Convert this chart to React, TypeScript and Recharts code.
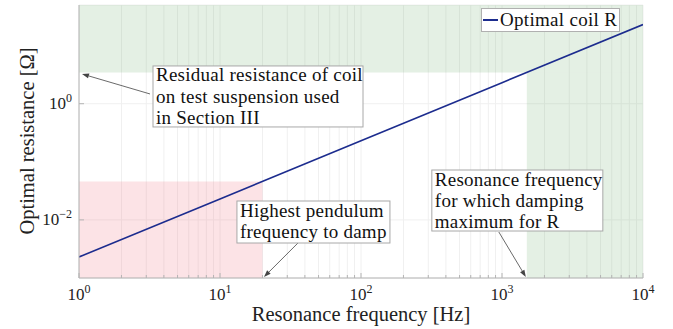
import React from 'react';
import {
  ComposedChart,
  Line,
  XAxis,
  YAxis,
  CartesianGrid,
  ReferenceArea,
  ReferenceDot,
  Legend,
} from 'recharts';

// optimal coil resistance vs resonance frequency (R grows linearly with f)
const freqHz = [1, 10, 100, 1000, 10000];
const optimalR = [0.0023, 0.023, 0.23, 2.3, 23];

const xTicks = [
  1, 2, 3, 4, 5, 6, 7, 8, 9,
  10, 20, 30, 40, 50, 60, 70, 80, 90,
  100, 200, 300, 400, 500, 600, 700, 800, 900,
  1000, 2000, 3000, 4000, 5000, 6000, 7000, 8000, 9000,
  10000,
];
const yTicks = [0.01, 1];
const xDomain = [1, 10000];
const yDomain = [0.001, 50];

// shaded regions
const residualR = 3.45; // residual resistance of coil
const pendulumMaxHz = 20;
const pendulumR = 0.046;
const dampingMaxHz = 1500;

const data = freqHz.map((f, i) => ({ f, r: optimalR[i] }));

const FONT = '"Liberation Serif", "DejaVu Serif", serif';
const AXIS = '#b4b4b4';
const LINE = '#1c2c8e';

const isDecade = (v: number) => {
  const e = Math.round(Math.log10(v));
  return Math.abs(v - Math.pow(10, e)) < 1e-9 * v;
};

const Pow10 = ({ x, y, v, anchor }: any) => {
  const e = Math.round(Math.log10(v));
  const exp = e < 0 ? '\u2212' + Math.abs(e) : String(e);
  return (
    <text x={x} y={y} textAnchor={anchor} fontFamily={FONT} fontSize={17} fill="#222">
      <tspan>10</tspan>
      <tspan dy={-7} fontSize={12}>{exp}</tspan>
    </text>
  );
};

const BottomTick = ({ x, y, payload }: any) => {
  const major = isDecade(payload.value);
  return (
    <g>
      <line x1={x} x2={x} y1={y} y2={y - (major ? 5 : 3)} stroke={AXIS} />
      {major && <Pow10 x={x} y={y + 22} v={payload.value} anchor="middle" />}
    </g>
  );
};

const TopTick = ({ x, y, payload }: any) => {
  const major = isDecade(payload.value);
  return <line x1={x} x2={x} y1={y} y2={y + (major ? 5 : 3)} stroke={AXIS} />;
};

const LeftTick = ({ x, y, payload }: any) => (
  <g>
    <line x1={x} x2={x + 5} y1={y} y2={y} stroke={AXIS} />
    <Pow10 x={x - 7} y={y + 5} v={payload.value} anchor="end" />
  </g>
);

const RightTick = ({ x, y }: any) => <line x1={x} x2={x - 5} y1={y} y2={y} stroke={AXIS} />;

// arrow from a tail offset to the anchor point, plus a boxed note
const Note = ({ cx, cy, tip, tail, box, lines }: any) => {
  const tx = cx + tip[0];
  const ty = cy + tip[1];
  const sx = cx + tail[0];
  const sy = cy + tail[1];
  const ang = Math.atan2(ty - sy, tx - sx);
  const len = 7;
  const hw = 2.5;
  const bx = tx - len * Math.cos(ang);
  const by = ty - len * Math.sin(ang);
  const head = [
    [tx, ty],
    [bx - hw * Math.sin(ang), by + hw * Math.cos(ang)],
    [bx + hw * Math.sin(ang), by - hw * Math.cos(ang)],
  ]
    .map((p) => p.join(','))
    .join(' ');
  return (
    <g>
      <line x1={sx} y1={sy} x2={bx} y2={by} stroke="#444" strokeWidth={0.8} />
      <polygon points={head} fill="#444" />
      <rect x={cx + box[0]} y={cy + box[1]} width={box[2]} height={box[3]} fill="#fff" stroke="#a8a8a8" />
      {lines.map((t: string, i: number) => (
        <text
          key={i}
          x={cx + box[0] + 3}
          y={cy + box[1] + 15.5 + i * 21.3}
          fontFamily={FONT}
          fontSize={19}
          letterSpacing={0.25}
          fill="#111"
        >
          {t}
        </text>
      ))}
    </g>
  );
};

const LegendBox = ({ payload }: any) => {
  const item = payload && payload[0];
  if (!item) return null;
  return (
    <div
      style={{
        display: 'flex',
        alignItems: 'center',
        background: '#fff',
        border: '1px solid #b0b0b0',
        height: 24,
        padding: '0 2px 0 1px',
        fontFamily: FONT,
        fontSize: 19,
        letterSpacing: 0.3,
        color: '#111',
        boxSizing: 'border-box',
        whiteSpace: 'nowrap',
      }}
    >
      <span style={{ display: 'inline-block', width: 15, height: 2, background: item.color, marginRight: 2 }} />
      <span>{item.value}</span>
    </div>
  );
};

export default function App() {
  return (
    <div style={{ position: 'absolute', left: 0, top: 0, background: '#fff' }}>
      <ComposedChart width={673} height={329} data={data} margin={{ top: 5, right: 30, bottom: 0, left: 0 }}>
        <CartesianGrid stroke="#f0f0f0" strokeWidth={1} />
        <ReferenceArea x1={xDomain[0]} x2={xDomain[1]} y1={residualR} y2={yDomain[1]} fill="#6aab6a" fillOpacity={0.18} stroke="none" ifOverflow="hidden" />
        <ReferenceArea x1={dampingMaxHz} x2={xDomain[1]} y1={yDomain[0]} y2={residualR} fill="#6aab6a" fillOpacity={0.18} stroke="none" ifOverflow="hidden" />
        <ReferenceArea x1={xDomain[0]} x2={pendulumMaxHz} y1={yDomain[0]} y2={pendulumR} fill="#f06a7a" fillOpacity={0.19} stroke="none" ifOverflow="hidden" />
        <XAxis
          dataKey="f"
          type="number"
          scale="log"
          domain={xDomain}
          allowDataOverflow
          ticks={xTicks}
          interval={0}
          height={51}
          tickSize={0}
          tickMargin={0}
          tickLine={false}
          axisLine={{ stroke: AXIS }}
          tick={<BottomTick />}
          label={({ viewBox }: any) => (
            <text x={viewBox.x + viewBox.width / 2} y={viewBox.y + 43} textAnchor="middle" fontFamily={FONT} fontSize={20.5} fill="#222">
              Resonance frequency [Hz]
            </text>
          )}
        />
        <XAxis
          xAxisId="top"
          orientation="top"
          dataKey="f"
          type="number"
          scale="log"
          domain={xDomain}
          allowDataOverflow
          ticks={xTicks}
          interval={0}
          height={0}
          tickSize={0}
          tickMargin={0}
          tickLine={false}
          axisLine={{ stroke: AXIS }}
          tick={<TopTick />}
        />
        <YAxis
          type="number"
          scale="log"
          domain={yDomain}
          allowDataOverflow
          ticks={yTicks}
          interval={0}
          width={79}
          tickSize={0}
          tickMargin={0}
          tickLine={false}
          axisLine={{ stroke: AXIS }}
          tick={<LeftTick />}
          label={({ viewBox }: any) => {
            const cx = viewBox.x + 27;
            const cy = viewBox.y + 136;
            return (
              <text x={cx} y={cy} transform={`rotate(-90 ${cx} ${cy})`} textAnchor="middle" dominantBaseline="central" fontFamily={FONT} fontSize={20.5} fill="#222">
                Optimal resistance [Ω]
              </text>
            );
          }}
        />
        <YAxis
          yAxisId="right"
          orientation="right"
          type="number"
          scale="log"
          domain={yDomain}
          allowDataOverflow
          ticks={yTicks}
          interval={0}
          width={0}
          tickSize={0}
          tickMargin={0}
          tickLine={false}
          axisLine={{ stroke: AXIS }}
          tick={<RightTick />}
        />
        <Line type="linear" dataKey="r" name="Optimal coil R" stroke={LINE} strokeWidth={1.6} dot={false} isAnimationActive={false} />
        <ReferenceDot
          x={xDomain[0]}
          y={residualR}
          ifOverflow="visible"
          shape={(p: any) => (
            <Note cx={p.cx} cy={p.cy} tip={[3, 1.5]} tail={[71, 21.5]} box={[74, -6.5, 210, 61]}
              lines={['Residual resistance of coil', 'on test suspension used', 'in Section III']} />
          )}
        />
        <ReferenceDot
          x={pendulumMaxHz}
          y={yDomain[0]}
          ifOverflow="visible"
          shape={(p: any) => (
            <Note cx={p.cx} cy={p.cy} tip={[1.5, -1]} tail={[35.5, -35]} box={[-25.5, -77, 153, 42]}
              lines={['Highest pendulum', 'frequency to damp']} />
          )}
        />
        <ReferenceDot
          x={dampingMaxHz}
          y={yDomain[0]}
          ifOverflow="visible"
          shape={(p: any) => (
            <Note cx={p.cx} cy={p.cy} tip={[-1, -1]} tail={[-28, -46]} box={[-95, -108, 171, 61]}
              lines={['Resonance frequency', 'for which damping', 'maximum for R']} />
          )}
        />
        <Legend
          layout="horizontal"
          verticalAlign="middle"
          align="center"
          content={<LegendBox />}
          wrapperStyle={{ top: 8, left: 481, width: 'auto' }}
        />
      </ComposedChart>
    </div>
  );
}
